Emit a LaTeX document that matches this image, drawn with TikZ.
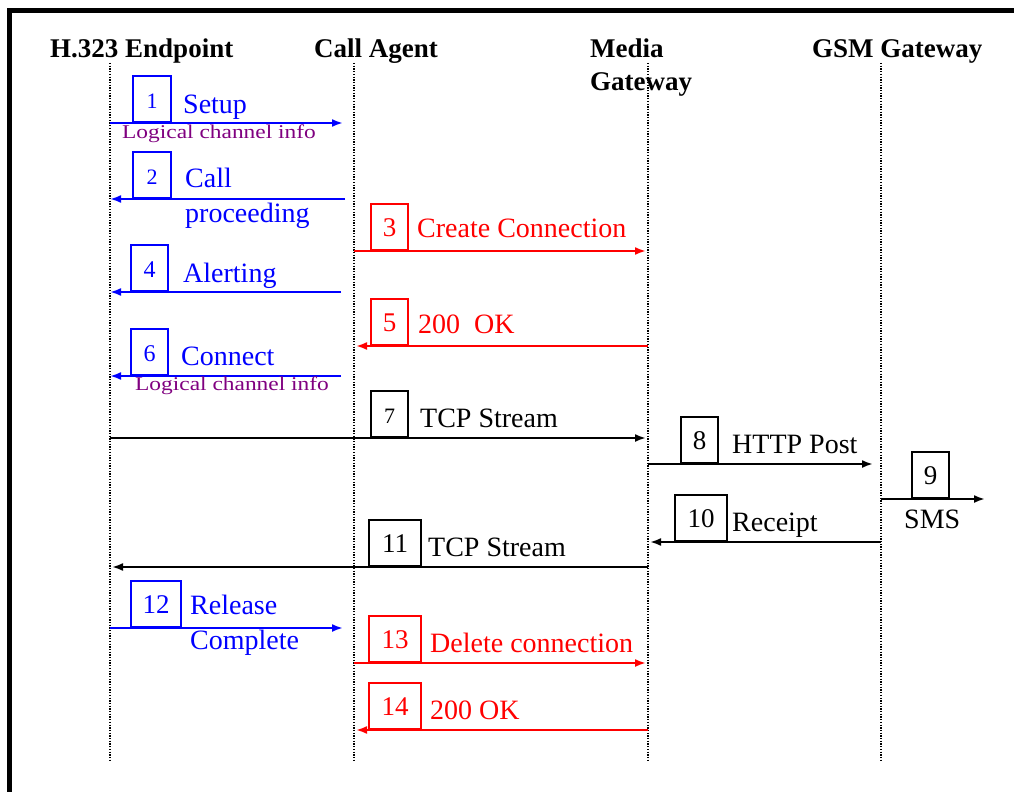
\documentclass[tikz,border=0pt]{standalone}
\usepackage{fontspec}
\setmainfont{Liberation Serif}
\newfontfamily\infofont[FakeStretch=1.2]{Liberation Serif}
\usetikzlibrary{arrows.meta}
\definecolor{msgblue}{RGB}{0,0,255}
\definecolor{msgred}{RGB}{255,0,0}
\definecolor{infopurple}{RGB}{128,0,128}
\begin{document}
\begin{tikzpicture}[x=1pt,y=-1pt,
  lifeline/.style={line width=1.4pt, dash pattern=on 1.3pt off 1.4pt},
  msg/.style={line width=2pt, -{Latex[length=11pt,width=8pt]}},
  numbox/.style={draw, line width=1.7pt, anchor=south, inner sep=0pt,
    minimum width=#1, text height=32pt, text depth=14pt,
    font=\fontsize{27}{27}\selectfont},
  smallnum/.style={font=\fontsize{22}{22}\selectfont},
  midnum/.style={font=\fontsize{24}{24}\selectfont},
  lbl/.style={anchor=base west, inner sep=0pt, align=left,
    font=\fontsize{28}{35}\selectfont},
  info/.style={anchor=base west, inner sep=0pt, text=infopurple,
    font=\infofont\fontsize{19.5}{20}\selectfont},
  hdr/.style={anchor=base west, inner sep=0pt, align=left,
    font=\bfseries\fontsize{27}{33}\selectfont}
]
\useasboundingbox (0,0) rectangle (1014,792);
\fill[white] (0,0) rectangle (1014,792);
% frame
\fill[black] (7,8) rectangle (1014,13);
\fill[black] (7,8) rectangle (12,792);

% headers (base anchor of multi-line nodes = last baseline)
\node[hdr] (hEP) at (50,57) {H.323 Endpoint};
\node[hdr] (hCA) at (314,57) {Call Agent};
\node[hdr] (hMG) at (590,90) {Media\\Gateway};
\node[hdr] (hGSM) at (812,58) {GSM Gateway};

% lifelines
\coordinate (epT) at (110,63);  \coordinate (epB) at (110,760);
\coordinate (caT) at (354,63);  \coordinate (caB) at (354,760);
\coordinate (mgT) at (648,63);  \coordinate (mgB) at (648,760);
\coordinate (gsT) at (881,63);  \coordinate (gsB) at (881,760);
\draw[lifeline] (epT) -- (epB);
\draw[lifeline] (caT) -- (caB);
\draw[lifeline] (mgT) -- (mgB);
\draw[lifeline] (gsT) -- (gsB);

% 1 Setup
\coordinate (m1a) at (110,123); \coordinate (m1b) at (343,123);
\draw[msg, msgblue] (m1a) -- (m1b);
\node[numbox=38pt, smallnum, msgblue] (b1) at (152,123) {1};
\node[lbl, msgblue] (l1) at (183,113) {Setup};
\node[info] (i1) at (122,138) {Logical channel info};

% 2 Call proceeding
\coordinate (m2a) at (345,199); \coordinate (m2b) at (110,199);
\draw[msg, msgblue] (m2a) -- (m2b);
\node[numbox=38pt, smallnum, msgblue] (b2) at (152,199) {2};
\node[lbl, msgblue] (l2) at (185,222) {Call\\proceeding};

% 3 Create Connection
\coordinate (m3a) at (354,251); \coordinate (m3b) at (646,251);
\draw[msg, msgred] (m3a) -- (m3b);
\node[numbox=37pt, msgred] (b3) at (389.5,251) {3};
\node[lbl, msgred] (l3) at (417,237) {Create Connection};

% 4 Alerting
\coordinate (m4a) at (341,292); \coordinate (m4b) at (110,292);
\draw[msg, msgblue] (m4a) -- (m4b);
\node[numbox=37pt, midnum, msgblue] (b4) at (149.5,292) {4};
\node[lbl, msgblue] (l4) at (183,282) {Alerting};

% 5 200 OK
\coordinate (m5a) at (648,346); \coordinate (m5b) at (356,346);
\draw[msg, msgred] (m5a) -- (m5b);
\node[numbox=37pt, msgred] (b5) at (389.5,346) {5};
\node[lbl, msgred] (l5) at (418,333) {200\ \ OK};

% 6 Connect
\coordinate (m6a) at (341,376); \coordinate (m6b) at (110,376);
\draw[msg, msgblue] (m6a) -- (m6b);
\node[numbox=37pt, midnum, msgblue] (b6) at (149.5,376) {6};
\node[lbl, msgblue] (l6) at (181,365) {Connect};
\node[info] (i6) at (135,390) {Logical channel info};

% 7 TCP Stream
\coordinate (m7a) at (110,438); \coordinate (m7b) at (646,438);
\draw[msg] (m7a) -- (m7b);
\node[numbox=37pt, smallnum] (b7) at (389.5,438) {7};
\node[lbl] (l7) at (420,427) {TCP Stream};

% 8 HTTP Post
\coordinate (m8a) at (648,464); \coordinate (m8b) at (873,464);
\draw[msg] (m8a) -- (m8b);
\node[numbox=37pt] (b8) at (699.5,464) {8};
\node[lbl] (l8) at (732,453) {HTTP Post};

% 9 SMS
\coordinate (m9a) at (881,499); \coordinate (m9b) at (985,499);
\draw[msg] (m9a) -- (m9b);
\node[numbox=37pt] (b9) at (930.5,499) {9};
\node[lbl] (l9) at (904,528) {SMS};

% 10 Receipt
\coordinate (m10a) at (881,542); \coordinate (m10b) at (650,542);
\draw[msg] (m10a) -- (m10b);
\node[numbox=52pt] (b10) at (701,542) {10};
\node[lbl] (l10) at (732,531) {Receipt};

% 11 TCP Stream
\coordinate (m11a) at (648,567); \coordinate (m11b) at (112,567);
\draw[msg] (m11a) -- (m11b);
\node[numbox=52pt] (b11) at (395,567) {11};
\node[lbl] (l11) at (428,556) {TCP Stream};

% 12 Release Complete
\coordinate (m12a) at (110,628); \coordinate (m12b) at (343,628);
\draw[msg, msgblue] (m12a) -- (m12b);
\node[numbox=50pt, msgblue] (b12) at (156,628) {12};
\node[lbl, msgblue] (l12) at (190,649) {Release\\Complete};

% 13 Delete connection
\coordinate (m13a) at (354,663); \coordinate (m13b) at (646,663);
\draw[msg, msgred] (m13a) -- (m13b);
\node[numbox=52pt, msgred] (b13) at (395,663) {13};
\node[lbl, msgred] (l13) at (430,652) {Delete connection};

% 14 200 OK
\coordinate (m14a) at (648,730); \coordinate (m14b) at (356,730);
\draw[msg, msgred] (m14a) -- (m14b);
\node[numbox=52pt, msgred] (b14) at (395,730) {14};
\node[lbl, msgred] (l14) at (430,719) {200 OK};
\end{tikzpicture}
\end{document}
